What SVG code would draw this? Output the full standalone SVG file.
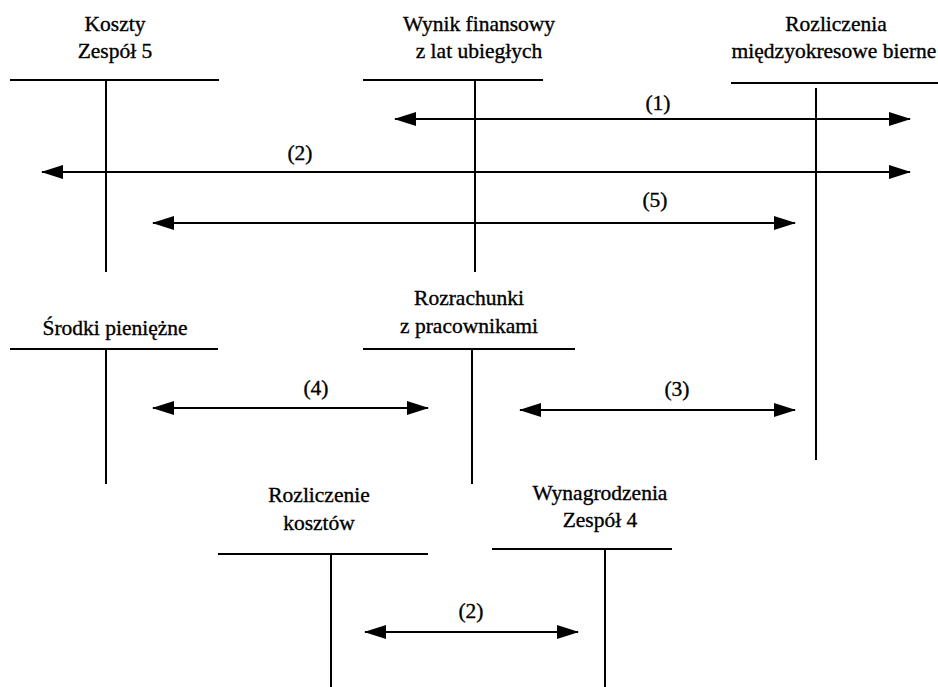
<svg xmlns="http://www.w3.org/2000/svg" width="938" height="687" viewBox="0 0 938 687">
<style>
text{font-size:21.5px;fill:#000;stroke:#000;stroke-width:0.35;text-anchor:middle}
.t line{stroke:#000;stroke-width:2}
.c line{stroke:#000;stroke-width:2;marker-start:url(#a);marker-end:url(#a)}
</style>
<defs>
<marker id="a" viewBox="0 0 22 14" refX="21" refY="7" markerWidth="22" markerHeight="14" markerUnits="userSpaceOnUse" orient="auto-start-reverse">
<path d="M0,0 L22,7 L0,14 Z" fill="#000"/>
</marker>
</defs>
<rect width="938" height="687" fill="#fff"/>
<g font-family="'Liberation Serif', 'Times New Roman', 'DejaVu Serif', serif">
<g id="koszty" class="t">
<text x="115" y="31">Koszty</text><text x="115" y="58">Zespół 5</text>
<line x1="10" y1="80" x2="219" y2="80"/><line x1="106" y1="80" x2="106" y2="272"/>
</g>
<g id="wynik" class="t">
<text x="479" y="31">Wynik finansowy</text><text x="479" y="58">z lat ubiegłych</text>
<line x1="363" y1="80" x2="543" y2="80"/><line x1="475" y1="80" x2="475" y2="272"/>
</g>
<g id="rmb" class="t">
<text x="836" y="31">Rozliczenia</text><text x="834" y="58">międzyokresowe bierne</text>
<line x1="731" y1="83" x2="938" y2="83"/><line x1="816" y1="88" x2="816" y2="460"/>
</g>
<g id="srodki" class="t">
<text x="115" y="335">Środki pieniężne</text>
<line x1="10" y1="349" x2="218" y2="349"/><line x1="106" y1="349" x2="106" y2="484"/>
</g>
<g id="rozrachunki" class="t">
<text x="469" y="305">Rozrachunki</text><text x="469" y="333">z pracownikami</text>
<line x1="363" y1="349" x2="575" y2="349"/><line x1="472" y1="349" x2="472" y2="484"/>
</g>
<g id="rozliczenie" class="t">
<text x="319" y="502">Rozliczenie</text><text x="319" y="530">kosztów</text>
<line x1="218" y1="554" x2="428" y2="554"/><line x1="331" y1="554" x2="331" y2="687"/>
</g>
<g id="wynagrodzenia" class="t">
<text x="600" y="500">Wynagrodzenia</text><text x="600" y="527">Zespół 4</text>
<line x1="492" y1="549" x2="672" y2="549"/><line x1="605" y1="549" x2="605" y2="687"/>
</g>
<g id="connectors" class="c">
<line x1="395" y1="119" x2="910" y2="119"/><text x="658" y="110">(1)</text>
<line x1="42" y1="172" x2="910" y2="172"/><text x="300" y="160">(2)</text>
<line x1="153" y1="223" x2="795" y2="223"/><text x="655" y="207">(5)</text>
<line x1="153" y1="408" x2="428" y2="408"/><text x="316" y="395">(4)</text>
<line x1="520" y1="410" x2="795" y2="410"/><text x="677" y="396">(3)</text>
<line x1="365" y1="632" x2="578" y2="632"/><text x="471" y="618">(2)</text>
</g>
</g>
</svg>
